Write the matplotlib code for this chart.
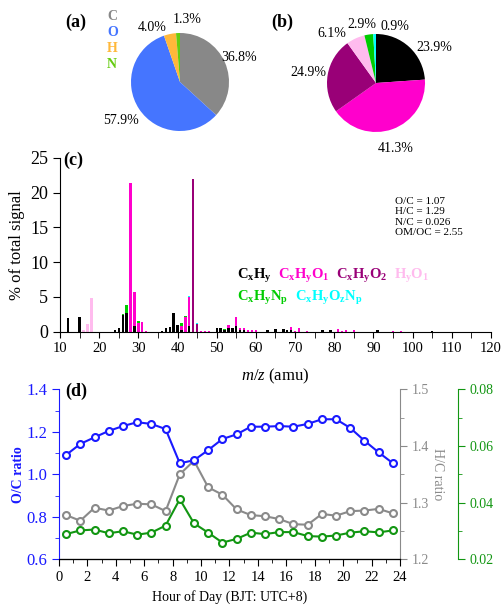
import matplotlib
matplotlib.use('Agg')
import matplotlib.pyplot as plt
import numpy as np

plt.rcParams['font.family'] = 'Liberation Serif'
plt.rcParams['mathtext.fontset'] = 'custom'
plt.rcParams['mathtext.rm'] = 'Liberation Serif'
plt.rcParams['mathtext.it'] = 'Liberation Serif:italic'
plt.rcParams['mathtext.bf'] = 'Liberation Serif:bold'

# (a) elemental mass fractions
elem_names = ['C', 'O', 'H', 'N']
elem_frac = [36.8, 57.9, 4.0, 1.3]
elem_colors = ['#888888', '#4575ff', '#ffb83a', '#66cc11']

# (b) ion family fractions
fam_names = [r'$\mathbf{C_xH_y}$', r'$\mathbf{C_xH_yO_1}$', r'$\mathbf{C_xH_yO_2}$',
             r'$\mathbf{H_yO_1}$', r'$\mathbf{C_xH_yN_p}$', r'$\mathbf{C_xH_yO_zN_p}$']
fam_frac = [23.9, 41.3, 24.9, 6.1, 2.9, 0.9]
fam_colors = ['black', '#ff00cc', '#990077', '#ffbbee', '#00cc00', '#00ffff']

# (c) mass spectrum, one list per ion family
mz = [12, 15, 16, 17, 18, 24, 25, 26, 27, 28, 29, 30, 31, 32, 36, 37, 38, 39, 40, 41,
      42, 43, 44, 45, 46, 47, 48, 50, 51, 52, 53, 54, 55, 56, 57, 58, 59, 60, 63, 65,
      67, 68, 69, 70, 71, 73, 77, 79, 81, 82, 83, 85, 91, 95, 97, 105]
cxhy = [1.9, 2.1, 0, 0, 0, 0.2, 0.6, 2.4, 2.7, 0, 0.8, 0, 0, 0, 0.1, 0.5, 0.7, 2.7, 0.9, 0.3,
        0, 0.8, 0, 0, 0, 0, 0, 0.5, 0.6, 0.3, 0.5, 0.5, 0.8, 0.2, 0.3, 0, 0, 0, 0.2, 0.4,
        0.4, 0.2, 0.2, 0, 0, 0, 0.3, 0.3, 0, 0, 0, 0, 0.3, 0, 0, 0.1]
cxhyo1 = [0, 0, 0, 0, 0, 0, 0, 0, 0, 21.4, 4.9, 1.3, 1.4, 0.1, 0, 0, 0, 0, 0, 0.5,
          2.1, 4.2, 0, 0, 0.15, 0.1, 0.1, 0, 0, 0, 0.4, 0, 1.3, 0.4, 0.3, 0.3, 0.2, 0.3, 0, 0,
          0, 0, 0.5, 0.1, 0.5, 0.1, 0, 0, 0.35, 0.15, 0.2, 0.3, 0, 0.15, 0.1, 0]
cxhyo2 = [0, 0, 0, 0, 0, 0, 0, 0, 0, 0, 0, 0, 0, 0, 0, 0, 0, 0, 0, 0,
          0, 0, 22.0, 1.1, 0, 0, 0, 0, 0, 0, 0, 0, 0, 0, 0, 0, 0, 0, 0, 0,
          0, 0, 0, 0, 0, 0, 0, 0, 0, 0, 0, 0, 0, 0, 0, 0]
hyo1 = [0, 0, 0.2, 1.1, 4.9, 0, 0, 0, 0, 0, 0, 0, 0, 0, 0, 0, 0, 0, 0, 0,
        0, 0, 0, 0, 0, 0, 0, 0, 0, 0, 0, 0, 0, 0, 0, 0, 0, 0, 0, 0,
        0, 0, 0, 0, 0, 0, 0, 0, 0, 0, 0, 0, 0, 0, 0, 0]
cxhynp = [0, 0, 0, 0, 0, 0, 0, 0.15, 1.1, 0, 0, 0.2, 0, 0, 0, 0, 0, 0, 0, 0.4,
          0.2, 0, 0, 0, 0, 0, 0, 0, 0, 0.1, 0, 0, 0, 0, 0, 0, 0, 0, 0, 0,
          0, 0, 0, 0, 0, 0, 0, 0, 0, 0, 0, 0, 0, 0, 0, 0]
cxhyoznp = [0, 0, 0, 0, 0, 0, 0, 0, 0, 0, 0, 0, 0, 0, 0, 0, 0, 0, 0, 0,
            0, 0.2, 0, 0.1, 0, 0, 0, 0, 0, 0, 0, 0, 0, 0, 0, 0, 0, 0, 0, 0,
            0, 0, 0, 0, 0, 0, 0, 0, 0, 0, 0, 0, 0, 0, 0, 0]
ratio_text = 'O/C = 1.07\nH/C = 1.29\nN/C = 0.026\nOM/OC = 2.55'

# (d) diurnal ratios
hour = [0.5, 1.5, 2.5, 3.5, 4.5, 5.5, 6.5, 7.5, 8.5, 9.5, 10.5, 11.5,
        12.5, 13.5, 14.5, 15.5, 16.5, 17.5, 18.5, 19.5, 20.5, 21.5, 22.5, 23.5]
oc = [1.091, 1.143, 1.174, 1.204, 1.227, 1.245, 1.237, 1.213, 1.052, 1.066, 1.114, 1.166,
      1.188, 1.224, 1.224, 1.227, 1.224, 1.237, 1.259, 1.259, 1.218, 1.158, 1.103, 1.052]
hc = [1.278, 1.268, 1.291, 1.286, 1.294, 1.298, 1.297, 1.285, 1.350, 1.374, 1.327, 1.314,
      1.288, 1.278, 1.276, 1.271, 1.262, 1.261, 1.280, 1.277, 1.285, 1.286, 1.289, 1.281]
nc = [0.0289, 0.0302, 0.0305, 0.0292, 0.0299, 0.0287, 0.0294, 0.0319, 0.0412, 0.0327, 0.0294, 0.0259,
      0.0272, 0.0294, 0.0289, 0.0296, 0.0296, 0.0282, 0.0280, 0.0284, 0.0294, 0.0299, 0.0295, 0.0302]

W, H = 503, 606
fig = plt.figure(figsize=(W / 100, H / 100), dpi=100)


def box(x0, y0, x1, y1):
    # pixel box (top-left origin) -> figure fraction
    return [x0 / W, 1 - y1 / H, (x1 - x0) / W, (y1 - y0) / H]


# ---- pies
def draw_pie(rect, fracs, colors, label_xy):
    ax = fig.add_axes(rect)
    ax.pie(fracs, colors=colors, startangle=90, counterclock=False,
           wedgeprops=dict(linewidth=0))
    ax.set_xlim(-1, 1)
    ax.set_ylim(-1, 1)
    for f, (x, y) in zip(fracs, label_xy):
        ax.text(x, y, '%.1f%%' % f, ha='center', va='center', fontsize=10)
    return ax


draw_pie(box(131, 33, 229, 131), elem_frac, elem_colors,
         [(1.20, 0.49), (-1.20, -0.78), (-0.57, 1.12), (0.14, 1.27)])
draw_pie(box(327, 34, 425, 132), fam_frac, fam_colors,
         [(1.20, 0.73), (0.41, -1.33), (-1.37, 0.22), (-0.90, 1.02), (-0.29, 1.20), (0.39, 1.16)])

fig.text(65 / W, 1 - 22 / H, '(a)', fontsize=13, fontweight='bold', va='center')
fig.text(271 / W, 1 - 22 / H, '(b)', fontsize=13, fontweight='bold', va='center')
for i, (n, c) in enumerate(zip(elem_names, elem_colors)):
    fig.text(107 / W, 1 - (16 + 16 * i) / H, n, color=c, fontsize=10,
             fontweight='bold', va='center')

# ---- mass spectrum
axc = fig.add_axes(box(60, 158, 491, 331.7))
bottom = np.zeros(len(mz))
for vals, col in zip([cxhy, cxhyo1, cxhyo2, hyo1, cxhynp, cxhyoznp], fam_colors):
    axc.bar(mz, vals, width=0.6, bottom=bottom, color=col, linewidth=0)
    bottom += np.array(vals)
axc.set_xlim(10, 120)
axc.set_ylim(0, 25)
axc.set_xticks(range(10, 121, 10))
axc.set_xticks(range(15, 120, 10), minor=True)
axc.set_yticks(range(0, 26, 5))
axc.spines['top'].set_visible(False)
axc.spines['right'].set_visible(False)
axc.tick_params(axis='y', labelsize=13, length=5, direction='out')
axc.tick_params(axis='x', which='both', labelsize=10.5, length=4, direction='out')
axc.set_ylabel('% of total signal', fontsize=12, labelpad=4)
axc.set_xlabel(r'$m/z$ (amu)', fontsize=12)
axc.xaxis.set_label_coords(0.5, -0.2)
fig.text(63 / W, 1 - 160 / H, '(c)', fontsize=13, fontweight='bold', va='center')
fig.text(395 / W, 1 - 217 / H, ratio_text, fontsize=8, va='center', linespacing=1.15)

leg_pos = [(237, 276), (278, 276), (336, 276), (394, 276), (237, 298), (295, 298)]
for n, c, (x, y) in zip(fam_names, fam_colors, leg_pos):
    fig.text(x / W, 1 - y / H, n, color=c, fontsize=10.5, va='center')

# ---- diurnal ratios
blue = '#1a1aff'
gray = '#8a8a8a'
green = '#129612'
axd = fig.add_axes(box(59, 389.3, 400, 559.3))
ax2 = axd.twinx()
ax3 = axd.twinx()
ax3.spines['right'].set_position(('axes', 1.17))

mk = dict(marker='o', mfc='white', ms=5, mew=1.5, lw=1.5)
ax2.plot(hour, hc, color=gray, **mk)
ax3.plot(hour, nc, color=green, **mk)
axd.plot(hour, oc, color=blue, **mk)
axd.set_zorder(3)
axd.patch.set_visible(False)

axd.set_xlim(0, 24)
axd.set_ylim(0.6, 1.4)
ax2.set_ylim(1.2, 1.5)
ax3.set_ylim(0.02, 0.08)
axd.set_xticks(range(0, 25, 2))
axd.set_xticks(range(1, 24, 2), minor=True)
axd.set_yticks(np.arange(0.6, 1.41, 0.2))
axd.set_yticks(np.arange(0.7, 1.4, 0.2), minor=True)
ax2.set_yticks(np.arange(1.2, 1.51, 0.1))
ax2.set_yticks(np.arange(1.25, 1.5, 0.1), minor=True)
ax3.set_yticks(np.arange(0.02, 0.081, 0.02))
ax3.set_yticks(np.arange(0.03, 0.08, 0.02), minor=True)
axd.yaxis.set_major_formatter(matplotlib.ticker.FormatStrFormatter('%.1f'))
ax2.yaxis.set_major_formatter(matplotlib.ticker.FormatStrFormatter('%.1f'))
ax3.yaxis.set_major_formatter(matplotlib.ticker.FormatStrFormatter('%.2f'))

for a in (axd, ax2, ax3):
    a.spines['top'].set_visible(False)
axd.spines['right'].set_visible(False)
ax3.spines['left'].set_visible(False)
ax2.spines['left'].set_visible(False)
axd.spines['left'].set_color(blue)
ax2.spines['right'].set_color(gray)
ax3.spines['right'].set_color(green)

axd.tick_params(axis='x', which='major', labelsize=10.5, length=5)
axd.tick_params(axis='x', which='minor', length=3)
axd.tick_params(axis='y', which='major', labelsize=12, length=5, colors=blue)
axd.tick_params(axis='y', which='minor', length=3, colors=blue)
ax2.tick_params(axis='y', which='major', labelsize=10, length=5, colors=gray)
ax2.tick_params(axis='y', which='minor', length=3, colors=gray)
ax3.tick_params(axis='y', which='major', labelsize=10, length=5, colors=green)
ax3.tick_params(axis='y', which='minor', length=3, colors=green)

axd.set_xlabel('Hour of Day (BJT: UTC+8)', fontsize=10)
axd.set_ylabel('O/C ratio', color=blue, fontsize=10, fontweight='bold', labelpad=1)
ax2.set_ylabel('H/C ratio', color=gray, fontsize=10, rotation=270, labelpad=11)
ax3.set_ylabel('N/C ratio', color=green, fontsize=10, fontweight='bold', rotation=270, labelpad=17)
fig.text(65 / W, 1 - 391 / H, '(d)', fontsize=13, fontweight='bold', va='center')

fig.savefig('out.png', dpi=100)
